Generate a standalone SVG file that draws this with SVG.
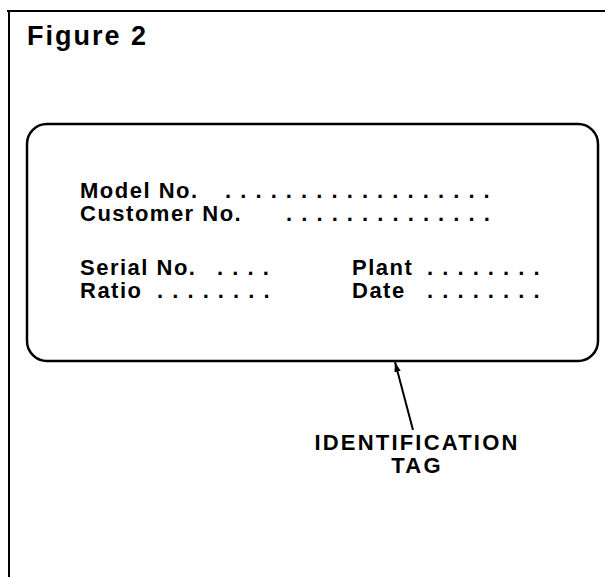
<svg xmlns="http://www.w3.org/2000/svg" width="605" height="577" viewBox="0 0 605 577">
<style>
text{font-family:"Liberation Sans",Arial,Helvetica,sans-serif;font-weight:bold;fill:#000}
.t{font-size:22px;letter-spacing:1.5px}
.d{letter-spacing:9.1px}
.lbl{font-size:22px;letter-spacing:2.2px;text-anchor:middle}
</style>
<defs>
<marker id="ah" viewBox="0 0 10 10" refX="10" refY="5" markerWidth="10" markerHeight="10" markerUnits="userSpaceOnUse" orient="auto"><path d="M0,1.8 L10,5 L0,8.2 Z" fill="#000"/></marker>
</defs>
<rect width="605" height="577" fill="#fff"/>
<g id="frame" fill="none" stroke="#000" stroke-width="2">
<path d="M7,11 H605"/>
<path d="M9,10 V577"/>
</g>
<g id="title"><text x="27" y="45" font-size="27" letter-spacing="2">Figure 2</text></g>
<g id="tag">
<rect x="27" y="124" width="571" height="237" rx="20" ry="20" fill="none" stroke="#000" stroke-width="2.5"/>
<text class="t" x="80" y="198">Model No.<tspan class="d" x="225">..................</tspan></text>
<text class="t" x="80" y="221">Customer No.<tspan class="d" x="286">..............</tspan></text>
<text class="t" x="80" y="275">Serial No.<tspan class="d" x="217">....</tspan></text>
<text class="t" x="80" y="298">Ratio<tspan class="d" x="157">........</tspan></text>
<text class="t" x="352" y="275">Plant<tspan class="d" x="427">........</tspan></text>
<text class="t" x="352" y="298">Date<tspan class="d" x="427">........</tspan></text>
</g>
<g id="connectors">
<path d="M413,430 L395,362" stroke="#000" stroke-width="2" fill="none" marker-end="url(#ah)"/>
</g>
<g id="label">
<text class="lbl" x="417" y="450">IDENTIFICATION</text>
<text class="lbl" x="417" y="473">TAG</text>
</g>
</svg>
